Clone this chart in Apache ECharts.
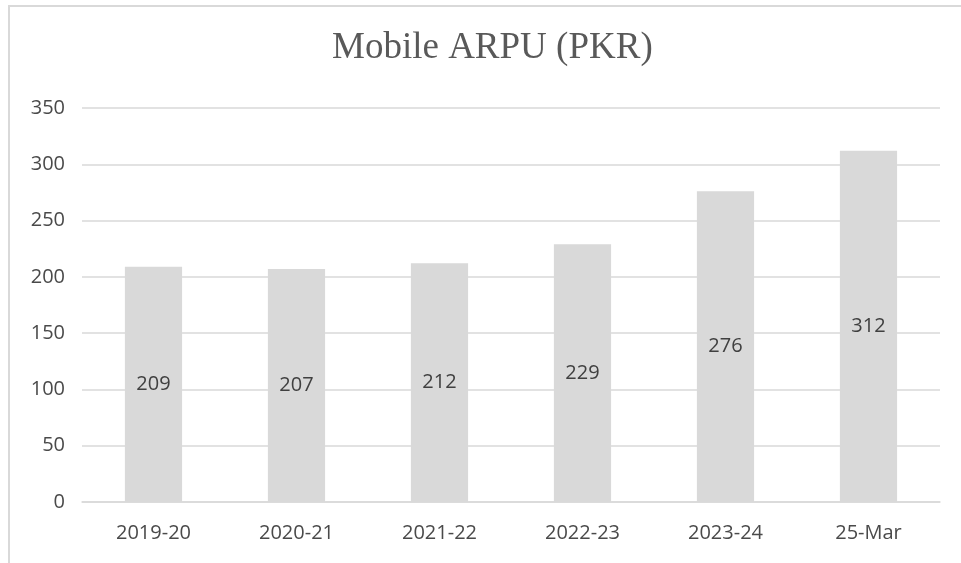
<!DOCTYPE html>
<html>
<head>
<meta charset="utf-8">
<script src="https://cdn.jsdelivr.net/npm/echarts@6/dist/echarts.min.js"></script>
<style>
  html, body { margin: 0; padding: 0; background: #fff; }
  #frame { position: absolute; left: 8px; top: 5px; width: 953px; height: 558px;
           border-left: 2px solid #d9d9d9; border-top: 2px solid #d9d9d9; }
  #chart { position: absolute; left: 0; top: 0; width: 961px; height: 563px; }
</style>
</head>
<body>
<div id="frame"></div>
<div id="chart"></div>
<script>
// 数据
const categories = ['2019-20', '2020-21', '2021-22', '2022-23', '2023-24', '25-Mar'];
const arpuValues = [209, 207, 212, 229, 276, 312];
const titleText = 'Mobile ARPU (PKR)';

const chart = echarts.init(document.getElementById('chart'));
const option = {
  animation: false,
  title: {
    text: titleText,
    left: 327,
    top: 25,
    textStyle: {
      fontFamily: '"Liberation Serif", "DejaVu Serif", serif',
      fontWeight: 'normal',
      fontSize: 37,
      color: '#595959'
    }
  },
  grid: {
    left: 82,
    right: 21,
    top: 108,
    bottom: 61,
    containLabel: false
  },
  xAxis: {
    type: 'category',
    data: categories,
    axisLine: { show: true, lineStyle: { color: '#d9d9d9', width: 1.5 } },
    axisTick: { show: false },
    axisLabel: {
      margin: 21,
      color: '#4a4a4a',
      fontSize: 20,
      fontFamily: '"Open Sans", "Noto Sans", sans-serif'
    }
  },
  yAxis: {
    type: 'value',
    min: 0,
    max: 350,
    interval: 50,
    axisLine: { show: false },
    axisTick: { show: false },
    axisLabel: {
      margin: 17,
      color: '#4a4a4a',
      fontSize: 20,
      fontFamily: '"Open Sans", "Noto Sans", sans-serif'
    },
    splitLine: { lineStyle: { color: '#d9d9d9', width: 1.5 } }
  },
  series: [
    {
      type: 'bar',
      data: arpuValues,
      barWidth: '40%',
      itemStyle: { color: '#d9d9d9' },
      label: {
        show: true,
        position: 'inside',
        color: '#404040',
        fontSize: 20,
        fontFamily: '"Open Sans", "Noto Sans", sans-serif'
      }
    }
  ]
};
chart.setOption(option);
</script>
</body>
</html>
